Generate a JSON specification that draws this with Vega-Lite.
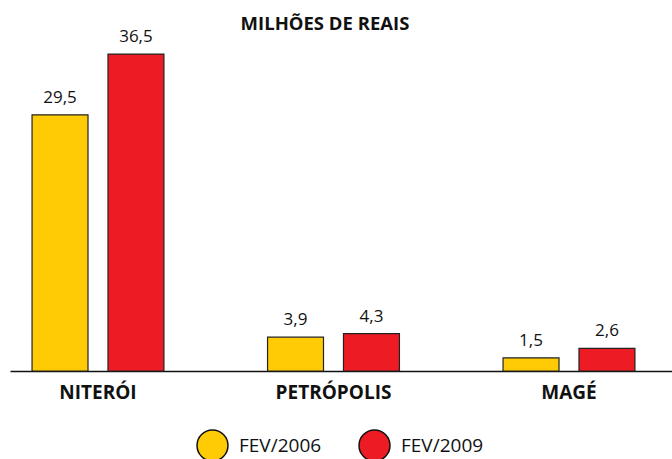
{
  "$schema": "https://vega.github.io/schema/vega-lite/v6.json",
  "width": 662,
  "height": 330,
  "autosize": {"type": "none"},
  "padding": {"left": 10, "top": 41, "right": 0, "bottom": 88},
  "background": "white",
  "title": {"text": "MILHÕES DE REAIS", "fontSize": 18.5, "fontWeight": "bold", "font": "Open Sans", "anchor": "middle", "dx": -16, "offset": -5, "color": "#111111"},
  "config": {
    "view": {"stroke": null},
    "locale": {"number": {"decimal": ",", "thousands": ".", "grouping": [3], "currency": ["R$", ""]}}
  },
  "data": {"values": [
    {"cidade": "NITERÓI", "periodo": "FEV/2006", "valor": 29.5},
    {"cidade": "NITERÓI", "periodo": "FEV/2009", "valor": 36.5},
    {"cidade": "PETRÓPOLIS", "periodo": "FEV/2006", "valor": 3.9},
    {"cidade": "PETRÓPOLIS", "periodo": "FEV/2009", "valor": 4.3},
    {"cidade": "MAGÉ", "periodo": "FEV/2006", "valor": 1.5},
    {"cidade": "MAGÉ", "periodo": "FEV/2009", "valor": 2.6}
  ]},
  "encoding": {
    "x": {"field": "cidade", "type": "nominal", "sort": ["NITERÓI", "PETRÓPOLIS", "MAGÉ"],
      "scale": {"paddingInner": 0.44, "paddingOuter": 0.1255, "align": 0.373},
      "axis": {"title": null, "domainColor": "#111111", "domainWidth": 1.5, "ticks": false, "labelFont": "Open Sans", "labelFontWeight": "bold", "labelFontSize": 19, "labelColor": "#111111", "labelPadding": 12, "labelAngle": 0}},
    "xOffset": {"field": "periodo", "type": "nominal", "sort": ["FEV/2006", "FEV/2009"], "scale": {"paddingInner": 0.263, "paddingOuter": 0}},
    "y": {"field": "valor", "type": "quantitative", "scale": {"domain": [0, 38]}, "axis": null}
  },
  "layer": [
    {
      "mark": {"type": "bar", "stroke": "#222222", "strokeWidth": 1.2},
      "encoding": {
        "color": {"field": "periodo", "type": "nominal", "sort": ["FEV/2006", "FEV/2009"],
          "scale": {"domain": ["FEV/2006", "FEV/2009"], "range": ["#FFCB05", "#ED1C24"]},
          "legend": {"title": null, "orient": "none", "legendX": 186, "legendY": 388, "direction": "horizontal", "symbolType": "circle", "symbolSize": 960, "symbolStrokeColor": "#111111", "symbolStrokeWidth": 1.5, "symbolOpacity": 1, "labelFontSize": 19, "labelFont": "Open Sans", "labelColor": "#111111", "labelOffset": 10, "columnPadding": 34, "padding": 0}}
      }
    },
    {
      "mark": {"type": "text", "baseline": "bottom", "dy": -8, "fontSize": 17, "font": "Open Sans", "color": "#111111"},
      "encoding": {"text": {"field": "valor", "type": "quantitative", "format": ".1f"}}
    }
  ]
}
